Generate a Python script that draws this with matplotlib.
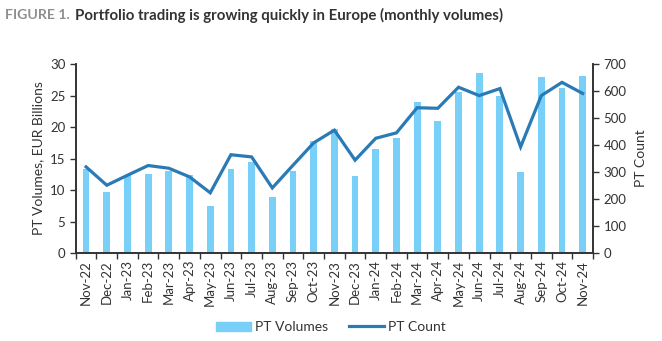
import matplotlib.pyplot as plt
from matplotlib.ticker import FixedLocator, NullFormatter

plt.rcParams['font.family'] = ['Lato', 'DejaVu Sans']

months = ['Nov-22', 'Dec-22', 'Jan-23', 'Feb-23', 'Mar-23', 'Apr-23', 'May-23',
          'Jun-23', 'Jul-23', 'Aug-23', 'Sep-23', 'Oct-23', 'Nov-23', 'Dec-23',
          'Jan-24', 'Feb-24', 'Mar-24', 'Apr-24', 'May-24', 'Jun-24', 'Jul-24',
          'Aug-24', 'Sep-24', 'Oct-24', 'Nov-24']
pt_volumes = [13.4, 9.7, 12.4, 12.5, 13.0, 12.4, 7.5, 13.4, 14.4, 8.9, 13.0,
              17.8, 19.7, 12.3, 16.5, 18.2, 23.9, 21.0, 25.5, 28.6, 25.0, 12.8,
              28.0, 26.2, 28.1]
pt_count = [319, 251, 288, 324, 314, 282, 223, 364, 356, 241, 325, 408, 455,
            344, 425, 445, 538, 536, 614, 583, 609, 393, 583, 632, 591]

bar_col = '#78CFF7'
line_col = '#2A7AB6'
axis_col = '#333333'
text_col = '#333333'

fig = plt.figure(figsize=(6.62, 3.41), dpi=100)
ax = fig.add_axes([0.1144, 0.258, 0.7814, 0.5543])
ax2 = ax.twinx()

x = list(range(len(months)))
ax.bar(x, pt_volumes, width=0.33, color=bar_col, zorder=2)
ax2.plot(x, pt_count, color=line_col, lw=2.3, solid_joinstyle='miter', zorder=3)

ax.set_xlim(-0.5, len(months) - 0.5)
ax.set_ylim(0, 30)
ax.set_yticks(range(0, 31, 5))
ax2.set_ylim(0, 700)
ax2.set_yticks(range(0, 701, 100))

ax.set_xticks(x)
ax.set_xticklabels(months, rotation=90, fontsize=9.5, color=text_col)
ax.tick_params(axis='x', which='major', length=0, pad=5)
# boundary ticks between months
ax.xaxis.set_minor_locator(FixedLocator([i - 0.5 for i in range(len(months) + 1)]))
ax.xaxis.set_minor_formatter(NullFormatter())
ax.tick_params(axis='x', which='minor', length=4, width=1, color=axis_col)

ax.tick_params(axis='y', length=4, width=1, color=axis_col, labelsize=9.5,
               labelcolor=text_col)
ax2.tick_params(axis='y', length=4, width=1, color=axis_col, labelsize=9.5,
                labelcolor=text_col)

for a in (ax, ax2):
    a.spines['top'].set_visible(False)
    for s in ('left', 'right', 'bottom'):
        a.spines[s].set_color(axis_col)
        a.spines[s].set_linewidth(1.2)

ax.set_ylabel('PT Volumes, EUR Billions', fontsize=10, color=text_col, labelpad=4)
ax2.set_ylabel('PT Count', fontsize=10, color=text_col, labelpad=6)

fig.text(0.008, 0.955, 'FIGURE 1.', fontsize=10.2, fontweight='bold',
         color='#8F8F8F', va='center')
fig.text(0.113, 0.955, 'Portfolio trading is growing quickly in Europe (monthly volumes)',
         fontsize=10.8, fontweight='bold', color='#333333', va='center')

handles = [plt.Rectangle((0, 0), 1, 1, color=bar_col),
           plt.Line2D([0], [0], color=line_col, lw=2.3)]
fig.legend(handles, ['PT Volumes', 'PT Count'], loc='center',
           bbox_to_anchor=(0.5, 0.04), ncol=2, frameon=False, fontsize=10,
           handlelength=2.5, handletextpad=0.3, columnspacing=1.5,
           labelcolor=text_col)

fig.savefig('out.png', dpi=100)
